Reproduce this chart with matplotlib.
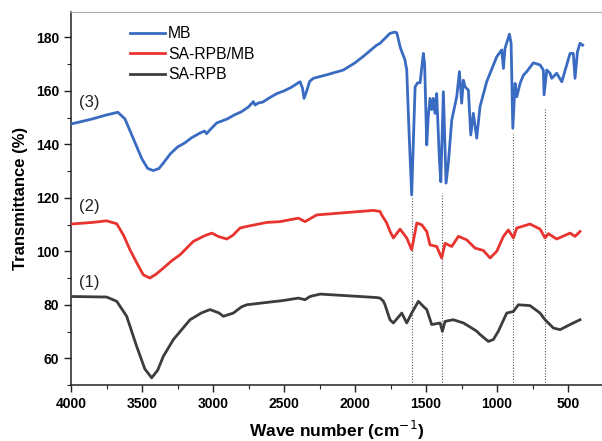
import numpy as np
import matplotlib
matplotlib.use('Agg')
import matplotlib.pyplot as plt
from matplotlib.ticker import MultipleLocator

plt.rcParams['font.family'] = ['Liberation Sans', 'DejaVu Sans']

# MB (3)
mb_wn = [4000, 3850, 3750, 3670, 3620, 3560, 3500, 3460, 3420, 3380, 3350, 3300, 3250, 3200,
         3150, 3100, 3060, 3045, 3020, 2974, 2900, 2850, 2800, 2750, 2716, 2704, 2680, 2650,
         2600, 2550, 2500, 2450, 2400, 2387, 2370, 2359, 2340, 2320, 2294, 2200, 2082, 2000,
         1944, 1850, 1824, 1754, 1720, 1706, 1680, 1648, 1636, 1620, 1601, 1590, 1577, 1560,
         1542, 1519, 1510, 1495, 1485, 1472, 1460, 1449, 1437, 1425, 1406, 1396, 1378, 1359, 1343,
         1319, 1284, 1265, 1249, 1237, 1225, 1202, 1185, 1167, 1143, 1120, 1073, 1049, 1002, 967,
         955, 944, 913, 901, 889, 873, 861, 838, 814, 791, 744, 697, 674, 669, 650, 627,
         615, 580, 544, 486, 463, 451, 434, 416, 397]
mb_t = [147.6, 149.5, 151.0, 152.0, 149.5, 142.0, 134.5, 131.0, 130.2, 131.0, 133.0, 136.5, 139.0, 140.5,
        142.5, 144.0, 145.0, 144.0, 145.5, 148.0, 149.5, 151.0, 152.2, 154.0, 156.0, 154.7, 155.5, 155.8,
        157.5, 159.0, 160.0, 161.3, 163.0, 163.4, 161.0, 157.2, 160.0, 163.5, 164.7, 166.0, 167.8, 170.5,
        172.8, 177.0, 177.8, 181.5, 182.0, 181.7, 176.0, 171.5, 167.8, 145.0, 121.1, 140.0, 161.5, 163.0,
        163.0, 174.0, 170.0, 139.8, 150.0, 157.2, 153.0, 157.2, 151.6, 159.0, 134.2, 126.0, 159.7, 125.5, 133.0,
        149.1, 157.8, 167.2, 155.4, 164.0, 161.5, 160.3, 143.5, 151.6, 142.3, 154.1, 163.4, 166.6, 172.8, 175.3,
        168.4, 175.9, 181.2, 177.8, 146.0, 162.8, 157.8, 162.8, 165.9, 167.2, 170.5, 169.7, 167.8, 158.5,
        167.8, 166.6, 164.7, 166.6, 163.4, 174.0, 174.0, 164.7, 174.6, 177.8, 177.1]

# SA-RPB/MB (2)
rm_wn = [4000, 3850, 3749, 3678, 3630, 3585, 3530, 3491, 3444, 3400, 3350, 3290, 3232, 3139,
         3060, 3009, 2960, 2903, 2860, 2810, 2763, 2622, 2528, 2399, 2352, 2270, 2058, 1871,
         1824, 1812, 1777, 1754, 1730, 1683, 1636, 1601, 1565, 1530, 1495, 1472, 1425, 1390,
         1366, 1319, 1272, 1214, 1155, 1096, 1049, 1002, 955, 920, 885, 861, 768, 697, 662,
         639, 580, 486, 451, 416]
rm_t = [110.2, 110.8, 111.4, 110.3, 106.0, 100.6, 95.0, 91.2, 90.0, 91.5, 93.7, 96.5, 98.7, 103.7,
        105.8, 106.8, 105.5, 104.6, 106.0, 108.7, 109.3, 110.8, 111.1, 112.4, 111.1, 113.6, 114.5, 115.3,
        114.9, 113.6, 110.6, 107.5, 105.0, 108.3, 105.0, 100.6, 110.6, 109.9, 107.4, 102.4, 101.8, 97.5,
        103.0, 101.8, 105.6, 104.3, 101.2, 100.3, 97.5, 100.0, 105.6, 108.0, 105.0, 108.7, 110.2, 108.3, 105.0,
        106.6, 104.6, 106.8, 105.6, 107.4]

# SA-RPB (1)
r_wn = [4000, 3749, 3678, 3608, 3538, 3480, 3432, 3390, 3350, 3279, 3162, 3080, 3021, 2960,
        2927, 2857, 2800, 2763, 2505, 2399, 2352, 2317, 2246, 1965, 1847, 1824, 1800, 1789,
        1754, 1730, 1671, 1636, 1601, 1554, 1519, 1495, 1460, 1401, 1385, 1366, 1308, 1237,
        1178, 1143, 1120, 1061, 1026, 991, 932, 885, 850, 768, 697, 662, 603, 556, 486, 416]
r_t = [83.1, 82.9, 81.3, 75.7, 64.5, 56.0, 52.7, 55.5, 60.7, 67.0, 74.4, 77.0, 78.2, 77.0,
       75.7, 76.9, 79.2, 80.0, 81.6, 82.5, 81.9, 83.1, 84.0, 83.1, 82.7, 82.5, 81.3, 80.0,
       74.4, 73.2, 76.9, 73.2, 76.9, 81.3, 79.4, 78.2, 72.6, 73.2, 70.1, 73.8, 74.4, 73.2,
       71.3, 70.1, 68.9, 66.3, 67.0, 70.1, 76.9, 77.5, 80.0, 79.7, 76.9, 74.4, 71.3, 70.7, 72.6, 74.4]

# dotted guide lines: position, top value
guide_wn = [1600, 1385, 885, 665]
guide_top = [120.5, 121.8, 144.6, 153.6]

fig = plt.figure(figsize=(6.02, 4.41), dpi=100)
ax = fig.add_axes([71/602, 56/441, 531/602, 373/441])

for x, top in zip(guide_wn, guide_top):
    ax.plot([x, x], [50, top], color='#555555', lw=0.8, ls=(0, (1, 1.5)), zorder=1)

ax.plot(mb_wn, mb_t, color='#3a6bc2', lw=2.0, label='MB', zorder=3)
ax.plot(rm_wn, rm_t, color='#e8332f', lw=2.0, label='SA-RPB/MB', zorder=3)
ax.plot(r_wn, r_t, color='#3c3c3c', lw=2.0, label='SA-RPB', zorder=3)

ax.text(3873, 155.8, '(3)', fontsize=12, ha='center', va='center', color='#222222')
ax.text(3873, 116.6, '(2)', fontsize=12, ha='center', va='center', color='#222222')
ax.text(3873, 88.3, '(1)', fontsize=12, ha='center', va='center', color='#222222')

ax.set_xlim(4000, 261)
ax.set_ylim(50, 189.5)
ax.xaxis.set_major_locator(MultipleLocator(500))
ax.xaxis.set_minor_locator(MultipleLocator(250))
ax.yaxis.set_minor_locator(MultipleLocator(10))
ax.set_yticks([60, 80, 100, 120, 140, 160, 180])
ax.tick_params(which='both', direction='out', top=False, right=False, color='#222222')
ax.tick_params(which='major', length=5, width=1, labelsize=10)
ax.tick_params(which='minor', length=3, width=0.8)
for lab in ax.get_xticklabels() + ax.get_yticklabels():
    lab.set_fontweight('bold')

ax.spines['right'].set_visible(False)
ax.spines['top'].set_color('#aaaaaa')
ax.spines['left'].set_color('#222222')
ax.spines['bottom'].set_color('#222222')
ax.spines['left'].set_linewidth(1.1)
ax.spines['bottom'].set_linewidth(1.1)

ax.set_xlabel('Wave number (cm$^{-1}$)', fontsize=12.5, fontweight='bold', labelpad=6)
ax.set_ylabel('Transmittance (%)', fontsize=12, fontweight='bold', labelpad=6)

leg = ax.legend(loc='upper left', bbox_to_anchor=(0.085, 1.0), frameon=False, fontsize=11.3,
                handlelength=2.2, handletextpad=0.2, labelspacing=0.35)

fig.savefig('out.png', dpi=100)
